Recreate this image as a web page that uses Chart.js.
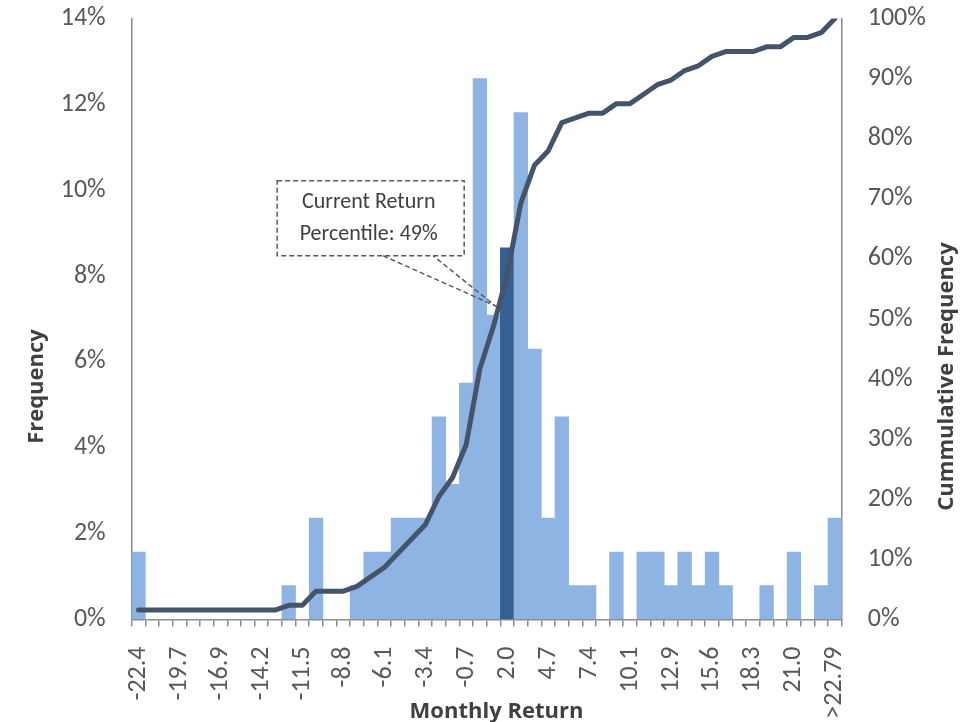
<!DOCTYPE html>
<html>
<head>
<meta charset="utf-8">
<script src="https://cdn.jsdelivr.net/npm/chart.js@4.4.1/dist/chart.umd.min.js"></script>
<style>
    html, body { margin: 0; padding: 0; background: #fff; }
    #wrap { width: 976px; height: 722px; position: relative; }
</style>
</head>
<body>
<div id="wrap"><canvas id="histChart"></canvas></div>
<script>
// bin labels (Excel only shows every third one)
const binLabels = [
    '-22.4', '', '', '-19.7', '', '', '-16.9', '', '', '-14.2', '', '', '-11.5', '', '',
    '-8.8', '', '', '-6.1', '', '', '-3.4', '', '', '-0.7', '', '', '2.0', '', '',
    '4.7', '', '', '7.4', '', '', '10.1', '', '', '12.9', '', '', '15.6', '', '',
    '18.3', '', '', '21.0', '', '', '>22.79'
];

// frequency per bin, in %
const frequency = [
    1.57, 0, 0, 0, 0, 0, 0, 0, 0, 0, 0, 0.79, 0, 2.36, 0,
    0, 0.79, 1.57, 1.57, 2.36, 2.36, 2.36, 4.72, 3.15, 5.51, 12.60, 7.09, 8.66, 11.81, 6.30,
    2.36, 4.72, 0.79, 0.79, 0, 1.57, 0, 1.57, 1.57, 0.79, 1.57, 0.79, 1.57, 0.79, 0,
    0, 0.79, 0, 1.57, 0, 0.79, 2.36
];

// cumulative frequency per bin, in %
const cumulative = [
    1.57, 1.57, 1.57, 1.57, 1.57, 1.57, 1.57, 1.57, 1.57, 1.57, 1.57, 2.36, 2.36, 4.72, 4.72,
    4.72, 5.51, 7.09, 8.66, 11.02, 13.39, 15.75, 20.47, 23.62, 29.13, 41.73, 48.82, 57.48, 69.29, 75.59,
    77.95, 82.68, 83.46, 84.25, 84.25, 85.83, 85.83, 87.40, 88.98, 89.76, 91.34, 92.13, 93.70, 94.49, 94.49,
    94.49, 95.28, 95.28, 96.85, 96.85, 97.64, 100
];

const currentBin = 27;
const calloutLines = ['Current Return', 'Percentile: 49%'];
const calloutValue = 52.2; // cumulative % where the pointer lands

const FONT = 'Carlito, Lato, sans-serif';
const TITLE_FONT = '"Open Sans", "DejaVu Sans", sans-serif';
const barColor = '#8EB4E3';
const currentColor = '#376092';
const lineColor = '#44546A';
const axisColor = '#898989';

const barColors = frequency.map((v, i) => i === currentBin ? currentColor : barColor);

// titles and the callout box are drawn by hand, Excel places them off-centre
const decorPlugin = {
    id: 'decor',
    afterDraw(chart) {
        const ctx = chart.ctx;
        const xs = chart.scales.x;
        const y1 = chart.scales.y1;

        ctx.save();
        ctx.fillStyle = '#404040';
        ctx.font = 'bold 22px ' + TITLE_FONT;
        ctx.textAlign = 'center';
        ctx.textBaseline = 'alphabetic';
        ctx.fillText('Monthly Return', 496.5, 718);

        ctx.save();
        ctx.translate(42.7, 386.5);
        ctx.rotate(-Math.PI / 2);
        ctx.fillText('Frequency', 0, 0);
        ctx.restore();

        ctx.save();
        ctx.translate(952.7, 376.5);
        ctx.rotate(-Math.PI / 2);
        ctx.fillText('Cummulative Frequency', 0, 0);
        ctx.restore();

        // callout
        const tipX = xs.getPixelForValue(currentBin) - 12;
        const tipY = y1.getPixelForValue(calloutValue);
        const boxL = tipX - 218;
        const boxT = tipY - 125;
        const boxW = 187;
        const boxH = 75;

        ctx.strokeStyle = '#595959';
        ctx.lineWidth = 1.5;
        ctx.setLineDash([5, 3]);
        ctx.fillStyle = '#fff';
        ctx.fillRect(boxL, boxT, boxW, boxH);
        ctx.strokeRect(boxL, boxT, boxW, boxH);
        ctx.beginPath();
        ctx.moveTo(boxL + 106, boxT + boxH);
        ctx.lineTo(tipX, tipY);
        ctx.lineTo(boxL + 156, boxT + boxH);
        ctx.stroke();
        ctx.setLineDash([]);

        ctx.fillStyle = '#404040';
        ctx.font = '22px ' + FONT;
        ctx.textBaseline = 'middle';
        ctx.fillText(calloutLines[0], boxL + boxW / 2 - 2, boxT + 22);
        ctx.fillText(calloutLines[1], boxL + boxW / 2 - 2, boxT + 54);
        ctx.restore();
    }
};

// invisible tick marks keep the labels away from the axis without adding top padding
const hiddenTicks = {
    display: true,
    drawOnChartArea: false,
    drawTicks: true,
    tickLength: 26,
    tickColor: 'rgba(0,0,0,0)'
};

const ctx = document.getElementById('histChart').getContext('2d');
const chart = new Chart(ctx, {
    data: {
        labels: binLabels,
        datasets: [
            {
                type: 'line',
                label: 'Cummulative Frequency',
                data: cumulative,
                yAxisID: 'y1',
                borderColor: lineColor,
                borderWidth: 5,
                borderCapStyle: 'round',
                borderJoinStyle: 'round',
                pointRadius: 0,
                tension: 0,
                order: 0
            },
            {
                type: 'bar',
                label: 'Frequency',
                data: frequency,
                yAxisID: 'y',
                backgroundColor: barColors,
                borderWidth: 0,
                barPercentage: 1,
                categoryPercentage: 1,
                order: 1
            }
        ]
    },
    options: {
        responsive: true,
        maintainAspectRatio: false,
        animation: false,
        layout: {
            padding: { top: 18.5, left: 0, right: 0, bottom: 0 }
        },
        plugins: {
            legend: { display: false },
            tooltip: { enabled: false }
        },
        scales: {
            x: {
                type: 'category',
                offset: true,
                grid: {
                    display: true,
                    drawOnChartArea: false,
                    drawTicks: true,
                    tickLength: 7,
                    offset: true,
                    color: axisColor,
                    lineWidth: 1.5
                },
                border: { display: true, color: axisColor, width: 1.5 },
                ticks: {
                    autoSkip: false,
                    maxRotation: 90,
                    minRotation: 90,
                    padding: 20,
                    color: '#595959',
                    font: { family: FONT, size: 26 }
                },
                afterFit: function(scale) { scale.height = 102.5; }
            },
            y: {
                position: 'left',
                min: 0,
                max: 14,
                grid: hiddenTicks,
                border: { display: true, color: axisColor, width: 1.5 },
                ticks: {
                    stepSize: 2,
                    padding: 0,
                    color: '#595959',
                    font: { family: FONT, size: 26 },
                    callback: v => v + '%'
                },
                afterFit: function(scale) { scale.width = 131.7; }
            },
            y1: {
                position: 'right',
                min: 0,
                max: 100,
                grid: hiddenTicks,
                border: { display: true, color: axisColor, width: 1.5 },
                ticks: {
                    stepSize: 10,
                    padding: 0,
                    color: '#595959',
                    font: { family: FONT, size: 26 },
                    callback: v => v + '%'
                },
                afterFit: function(scale) { scale.width = 134.3; }
            }
        }
    },
    plugins: [decorPlugin]
});
</script>
</body>
</html>
